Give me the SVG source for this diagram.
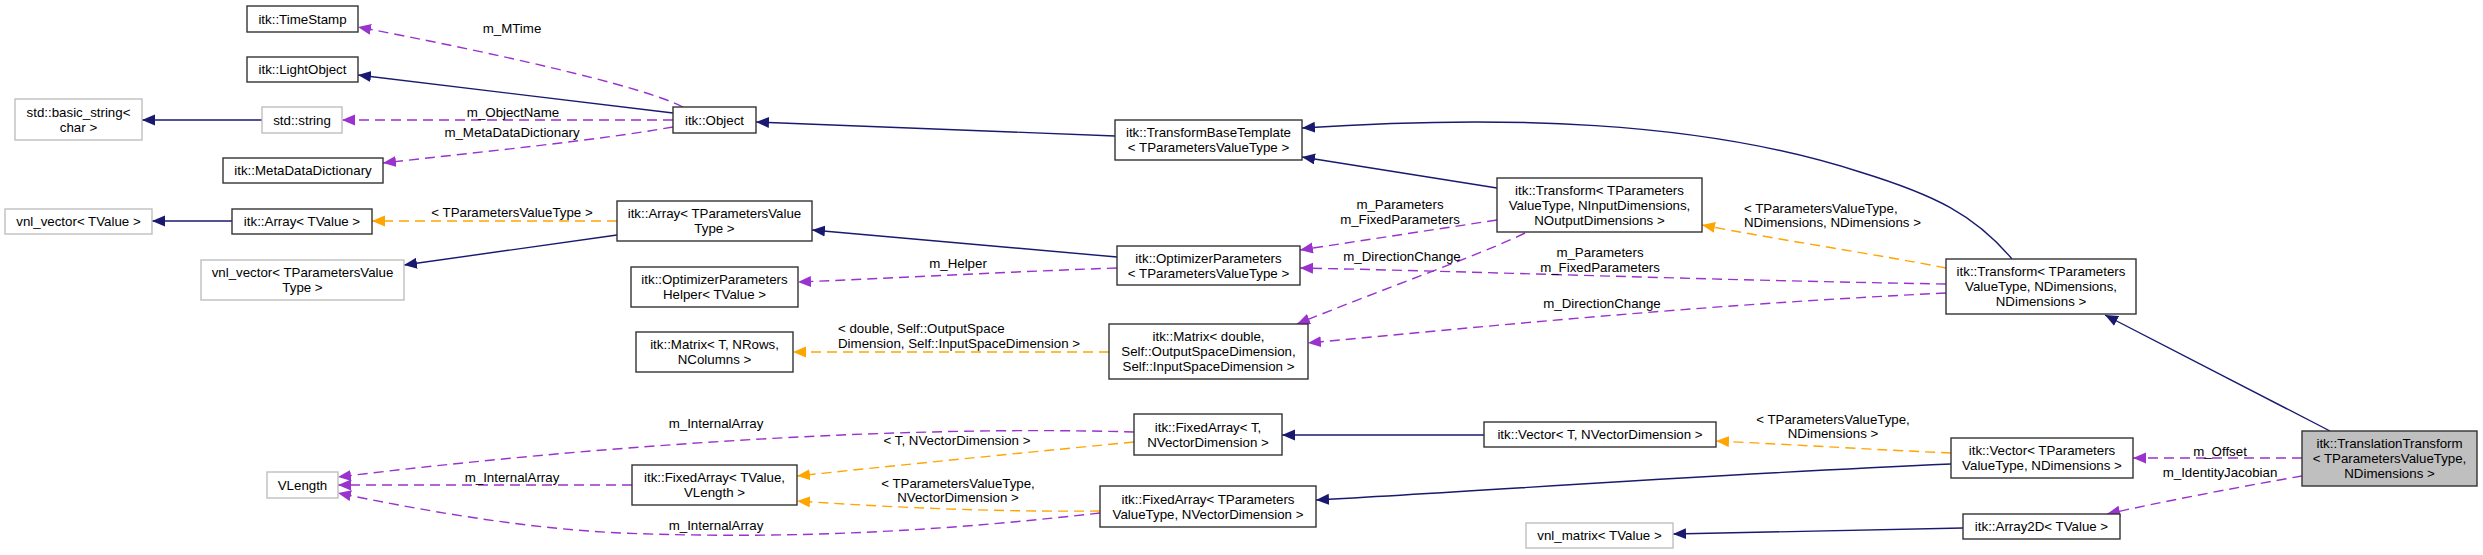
<svg xmlns="http://www.w3.org/2000/svg" width="2483" height="555" viewBox="0 0 2483 555">
<style>
text{font-family:"Liberation Sans",Arial,sans-serif;font-size:13.3px;fill:#000}
.n rect{fill:#fff;stroke:#333;stroke-width:1.4}
.g rect{fill:#fff;stroke:#bfbfbf;stroke-width:1.4}
.n text,.g text{text-anchor:middle}
.e{fill:none;stroke-width:1.4}
.inh{stroke:#191970;marker-end:url(#aN)}
.use{stroke:#9a32cd;stroke-dasharray:10,6;marker-end:url(#aP)}
.tpl{stroke:#ffa500;stroke-dasharray:10,6;marker-end:url(#aO)}
.lc{text-anchor:middle}
</style>
<defs>
<marker id="aN" markerUnits="userSpaceOnUse" markerWidth="14" markerHeight="12" refX="13" refY="5.5" orient="auto"><path d="M0,0L13,5.5L0,11z" fill="#191970"/></marker>
<marker id="aP" markerUnits="userSpaceOnUse" markerWidth="14" markerHeight="12" refX="13" refY="5.5" orient="auto"><path d="M0,0L13,5.5L0,11z" fill="#9a32cd"/></marker>
<marker id="aO" markerUnits="userSpaceOnUse" markerWidth="14" markerHeight="12" refX="13" refY="5.5" orient="auto"><path d="M0,0L13,5.5L0,11z" fill="#ffa500"/></marker>
</defs>
<rect width="2483" height="555" fill="#fff"/>
<g id="edges">
<path class="e use" d="M683,107 C640,85 480,50 358,27"/>
<text class="lc" x="512" y="32.5">m_MTime</text>
<path class="e inh" d="M673,113 L358,75"/>
<path class="e use" d="M673,120 L342,120"/>
<text class="lc" x="513" y="116.5">m_ObjectName</text>
<path class="e use" d="M673,127 C600,140 480,152 383,163"/>
<text class="lc" x="512" y="136.5">m_MetaDataDictionary</text>
<path class="e inh" d="M262,120 L142,120"/>
<path class="e inh" d="M232,221 L152,221"/>
<path class="e tpl" d="M617,221 L372,221"/>
<text class="lc" x="512" y="216.5">&lt; TParametersValueType &gt;</text>
<path class="e inh" d="M617,235 L404,265"/>
<path class="e inh" d="M1115,136 L756,122"/>
<path class="e inh" d="M1117,257 L812,230"/>
<path class="e use" d="M1117,268 C1000,272 900,278 798,282"/>
<text class="lc" x="958" y="267.5">m_Helper</text>
<path class="e tpl" d="M1109,352 L793,352"/>
<text x="838" y="332.5">&lt; double, Self::OutputSpace</text>
<text x="838" y="347.5">Dimension, Self::InputSpaceDimension &gt;</text>
<path class="e inh" d="M1497,188 L1302,157"/>
<path class="e inh" d="M2012,259 C1975,215 1935,195 1860,172 C1700,120 1500,115 1302,128"/>
<path class="e use" d="M1497,220 L1300,250"/>
<text class="lc" x="1400" y="208.5">m_Parameters</text>
<text class="lc" x="1400" y="223.5">m_FixedParameters</text>
<path class="e use" d="M1525,233 C1480,255 1380,290 1297,324"/>
<text class="lc" x="1402" y="260.5">m_DirectionChange</text>
<path class="e use" d="M1946,284 C1700,280 1500,272 1300,268"/>
<text class="lc" x="1600" y="256.5">m_Parameters</text>
<text class="lc" x="1600" y="271.5">m_FixedParameters</text>
<path class="e use" d="M1946,293 C1700,305 1500,325 1308,343"/>
<text class="lc" x="1602" y="307.5">m_DirectionChange</text>
<path class="e tpl" d="M1946,268 C1880,255 1780,240 1702,225"/>
<text x="1744" y="212.5">&lt; TParametersValueType,</text>
<text x="1744" y="226.5">NDimensions, NDimensions &gt;</text>
<path class="e inh" d="M2330,431 L2105,315"/>
<path class="e use" d="M2302,458 L2133,458"/>
<text class="lc" x="2220" y="455.5">m_Offset</text>
<path class="e use" d="M2302,476 C2250,485 2170,500 2107,514"/>
<text class="lc" x="2220" y="476.5">m_IdentityJacobian</text>
<path class="e inh" d="M1963,528 C1850,530 1750,532 1673,534"/>
<path class="e tpl" d="M1951,453 C1880,450 1800,445 1716,441"/>
<text class="lc" x="1833" y="423.5">&lt; TParametersValueType,</text>
<text class="lc" x="1833" y="437.5">NDimensions &gt;</text>
<path class="e inh" d="M1951,464 C1700,475 1500,490 1316,500"/>
<path class="e inh" d="M1484,435 L1282,435"/>
<path class="e use" d="M1134,432 C900,425 600,445 338,477"/>
<text class="lc" x="716" y="427.5">m_InternalArray</text>
<path class="e tpl" d="M1134,442 C1000,455 900,465 797,476"/>
<text class="lc" x="957" y="444.5">&lt; T, NVectorDimension &gt;</text>
<path class="e use" d="M632,485 L338,485"/>
<text class="lc" x="512" y="481.5">m_InternalArray</text>
<path class="e tpl" d="M1100,511 C1000,512 900,508 797,501"/>
<text class="lc" x="958" y="487.5">&lt; TParametersValueType,</text>
<text class="lc" x="958" y="501.5">NVectorDimension &gt;</text>
<path class="e use" d="M1100,513 C950,530 800,540 620,533 C520,528 420,510 338,493"/>
<text class="lc" x="716" y="529.5">m_InternalArray</text>
</g>
<g id="n_timestamp" class="n"><rect x="247" y="6" width="111" height="26"/><text x="302.5" y="23.5">itk::TimeStamp</text></g>
<g id="n_lightobject" class="n"><rect x="247" y="57" width="111" height="25"/><text x="302.5" y="74">itk::LightObject</text></g>
<g id="n_basic_string" class="g"><rect x="15" y="99" width="127" height="41"/><text x="78.5" y="116.5">std::basic_string&lt;</text><text x="78.5" y="131.5">char &gt;</text></g>
<g id="n_string" class="g"><rect x="262" y="107" width="80" height="26"/><text x="302" y="124.5">std::string</text></g>
<g id="n_metadatadictionary" class="n"><rect x="223" y="158" width="160" height="25"/><text x="303" y="175">itk::MetaDataDictionary</text></g>
<g id="n_vnl_vector_tvalue" class="g"><rect x="5" y="209" width="147" height="25"/><text x="78.5" y="226">vnl_vector&lt; TValue &gt;</text></g>
<g id="n_array_tvalue" class="n"><rect x="232" y="209" width="140" height="25"/><text x="302" y="226">itk::Array&lt; TValue &gt;</text></g>
<g id="n_vnl_vector_tpv" class="g"><rect x="201" y="260" width="203" height="40"/><text x="302.5" y="277">vnl_vector&lt; TParametersValue</text><text x="302.5" y="292">Type &gt;</text></g>
<g id="n_object" class="n"><rect x="673" y="107" width="83" height="26"/><text x="714.5" y="124.5">itk::Object</text></g>
<g id="n_array_tpv" class="n"><rect x="617" y="201" width="195" height="40"/><text x="714.5" y="218">itk::Array&lt; TParametersValue</text><text x="714.5" y="233">Type &gt;</text></g>
<g id="n_opt_helper" class="n"><rect x="631" y="267" width="167" height="40"/><text x="714.5" y="284">itk::OptimizerParameters</text><text x="714.5" y="299">Helper&lt; TValue &gt;</text></g>
<g id="n_matrix_t" class="n"><rect x="636" y="332" width="157" height="40"/><text x="714.5" y="349">itk::Matrix&lt; T, NRows,</text><text x="714.5" y="364">NColumns &gt;</text></g>
<g id="n_vlength" class="g"><rect x="267" y="472" width="71" height="26"/><text x="302.5" y="489.5">VLength</text></g>
<g id="n_fixedarray_tvalue" class="n"><rect x="632" y="465" width="165" height="40"/><text x="714.5" y="482">itk::FixedArray&lt; TValue,</text><text x="714.5" y="497">VLength &gt;</text></g>
<g id="n_transformbase" class="n"><rect x="1115" y="120" width="187" height="40"/><text x="1208.5" y="137">itk::TransformBaseTemplate</text><text x="1208.5" y="152">&lt; TParametersValueType &gt;</text></g>
<g id="n_optparams" class="n"><rect x="1117" y="246" width="183" height="39"/><text x="1208.5" y="262.5">itk::OptimizerParameters</text><text x="1208.5" y="277.5">&lt; TParametersValueType &gt;</text></g>
<g id="n_matrix_double" class="n"><rect x="1109" y="324" width="199" height="55"/><text x="1208.5" y="341">itk::Matrix&lt; double,</text><text x="1208.5" y="356">Self::OutputSpaceDimension,</text><text x="1208.5" y="371">Self::InputSpaceDimension &gt;</text></g>
<g id="n_fixedarray_t" class="n"><rect x="1134" y="414" width="148" height="41"/><text x="1208" y="431.5">itk::FixedArray&lt; T,</text><text x="1208" y="446.5">NVectorDimension &gt;</text></g>
<g id="n_fixedarray_tpv" class="n"><rect x="1100" y="486" width="216" height="41"/><text x="1208" y="503.5">itk::FixedArray&lt; TParameters</text><text x="1208" y="518.5">ValueType, NVectorDimension &gt;</text></g>
<g id="n_transform_io" class="n"><rect x="1497" y="178" width="205" height="54"/><text x="1599.5" y="194.5">itk::Transform&lt; TParameters</text><text x="1599.5" y="209.5">ValueType, NInputDimensions,</text><text x="1599.5" y="224.5">NOutputDimensions &gt;</text></g>
<g id="n_vector_t" class="n"><rect x="1484" y="422" width="232" height="25"/><text x="1600" y="439">itk::Vector&lt; T, NVectorDimension &gt;</text></g>
<g id="n_vnl_matrix" class="g"><rect x="1526" y="523" width="147" height="25"/><text x="1599.5" y="540">vnl_matrix&lt; TValue &gt;</text></g>
<g id="n_transform_nd" class="n"><rect x="1946" y="259" width="190" height="55"/><text x="2041" y="276">itk::Transform&lt; TParameters</text><text x="2041" y="291">ValueType, NDimensions,</text><text x="2041" y="306">NDimensions &gt;</text></g>
<g id="n_vector_tpv" class="n"><rect x="1951" y="438" width="182" height="40"/><text x="2042" y="455">itk::Vector&lt; TParameters</text><text x="2042" y="470">ValueType, NDimensions &gt;</text></g>
<g id="n_array2d" class="n"><rect x="1963" y="514" width="157" height="25"/><text x="2041.5" y="531">itk::Array2D&lt; TValue &gt;</text></g>
<g id="n_translation" class="n"><rect x="2302" y="431" width="175" height="55" style="fill:#bfbfbf"/><text x="2389.5" y="448">itk::TranslationTransform</text><text x="2389.5" y="463">&lt; TParametersValueType,</text><text x="2389.5" y="478">NDimensions &gt;</text></g>
</svg>
